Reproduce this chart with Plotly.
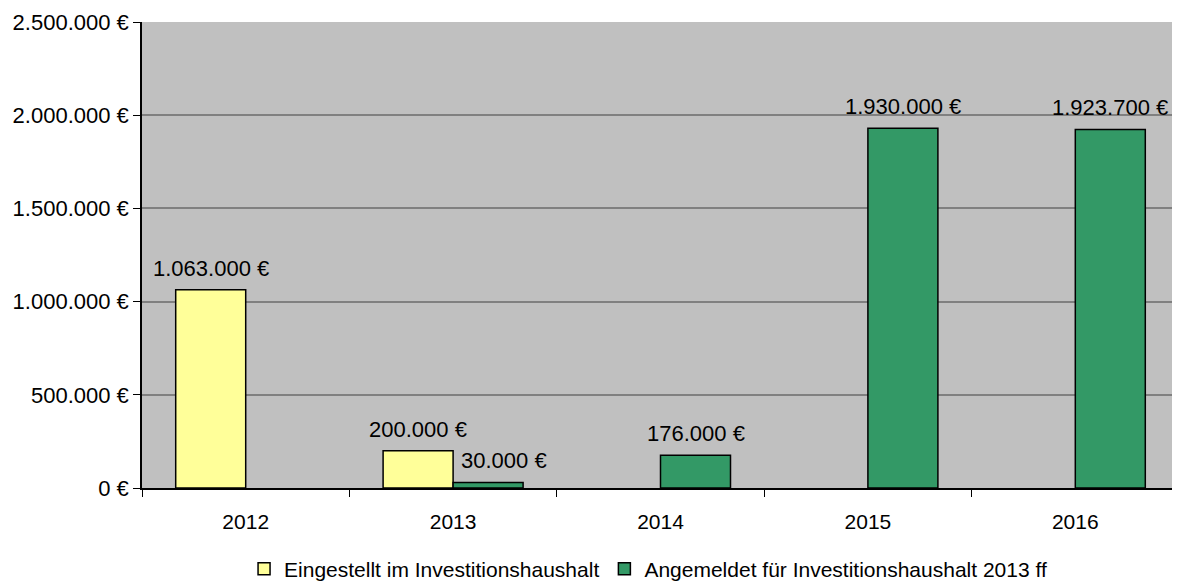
import plotly.graph_objects as go

years = ["2012", "2013", "2014", "2015", "2016"]
eingestellt = [1063000, 200000, None, None, None]
angemeldet = [None, 30000, 176000, 1930000, 1923700]
series_names = ["Eingestellt im Investitionshaushalt", "Angemeldet für Investitionshaushalt 2013 ff"]
y_ticks = [0, 500000, 1000000, 1500000, 2000000, 2500000]

FONT = "Liberation Sans, Arial, sans-serif"
FS = 22


def fmt(v):
    return f"{v:,.0f}".replace(",", ".") + " €"


fig = go.Figure()
fig.add_trace(go.Bar(x=years, y=eingestellt, name=series_names[0],
                     marker=dict(color="#ffff99", line=dict(color="black", width=1.5))))
fig.add_trace(go.Bar(x=years, y=angemeldet, name=series_names[1],
                     marker=dict(color="#339966", line=dict(color="black", width=1.5))))

annotations = []
for vals, xs in ((eingestellt, -35), (angemeldet, 35)):
    for i, v in enumerate(vals):
        if v is None:
            continue
        extra = 16 if v < 100000 else 0
        annotations.append(dict(x=i, y=v, xref="x", yref="y", text=fmt(v), showarrow=False,
                                xshift=xs + extra, yshift=7, yanchor="bottom",
                                font=dict(family=FONT, size=FS, color="black")))

# page body has an 8px margin, so the figure is sized/offset to compensate
fig.update_layout(
    width=1172, height=579,
    margin=dict(l=134, r=1, t=14, b=99, autoexpand=False),
    paper_bgcolor="white", plot_bgcolor="#c0c0c0",
    barmode="group", bargap=0.325, bargroupgap=0,
    font=dict(family=FONT, size=FS, color="black"),
    showlegend=True,
    legend=dict(orientation="h", x=0.488, xanchor="center", y=-0.174, yanchor="middle",
                font=dict(family=FONT, size=21), itemclick=False, tracegroupgap=0),
    annotations=annotations,
    shapes=[dict(type="line", xref="paper", yref="paper", x0=1, x1=1, y0=0, y1=1,
                 line=dict(color="#808080", width=1.5))],
)
fig.update_xaxes(type="category", categoryarray=years, categoryorder="array",
                 range=[-0.5, len(years) - 0.5], autorange=False, automargin=False,
                 showline=True, linecolor="black", linewidth=1.5,
                 ticks="outside", ticklen=7, tickcolor="black", tickson="boundaries",
                 ticklabelstandoff=14, showgrid=False, zeroline=False,
                 tickfont=dict(family=FONT, size=21))
fig.update_yaxes(range=[0, 2500000], tickvals=y_ticks, automargin=False,
                 ticktext=[fmt(v) for v in y_ticks],
                 showline=True, linecolor="black", linewidth=1.5,
                 ticks="outside", ticklen=7, tickcolor="black",
                 showgrid=True, gridcolor="#808080", gridwidth=1.5, zeroline=False,
                 tickfont=dict(family=FONT, size=FS))

fig.write_html("out.html")
